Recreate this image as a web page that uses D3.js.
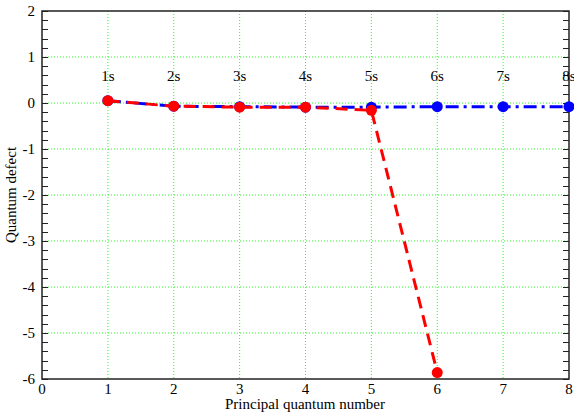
<!DOCTYPE html>
<html>
<head>
  <script src="https://d3js.org/d3.v7.min.js"></script>
  <style>
    body { margin: 0; background: #fff; }
    text { font-family: "Liberation Serif", "DejaVu Serif", serif; }
  </style>
</head>
<body>
  <svg id="chart"></svg>
  <script>
    // data
    const nValues = [1, 2, 3, 4, 5, 6, 7, 8];
    const stateLabels = ['1s', '2s', '3s', '4s', '5s', '6s', '7s', '8s'];
    const blueDefect = [0.05, -0.07, -0.08, -0.09, -0.09, -0.08, -0.08, -0.08];
    const redN = [1, 2, 3, 4, 5, 6];
    const redDefect = [0.05, -0.07, -0.09, -0.09, -0.16, -5.86];
    const xTicks = [0, 1, 2, 3, 4, 5, 6, 7, 8];
    const yTicks = [2, 1, 0, -1, -2, -3, -4, -5, -6];

    const W = 574, H = 415;
    const plotL = 42, plotR = 569, plotT = 11, plotB = 379;
    const fs = 15;

    const svg = d3.select('#chart').attr('width', W).attr('height', H);

    const x = d3.scaleLinear().domain([0, 8]).range([plotL, plotR]);
    const y = d3.scaleLinear().domain([-6, 2]).range([plotB, plotT]);

    // grid
    const grid = svg.append('g');
    grid.selectAll('.vg').data(xTicks.slice(1, -1)).enter().append('line')
      .attr('x1', d => x(d)).attr('x2', d => x(d))
      .attr('y1', plotT).attr('y2', plotB)
      .attr('stroke', '#22ff22').attr('stroke-dasharray', '1,2');
    grid.selectAll('.hg').data(yTicks.slice(1, -1)).enter().append('line')
      .attr('x1', plotL).attr('x2', plotR)
      .attr('y1', d => y(d)).attr('y2', d => y(d))
      .attr('stroke', '#22ff22').attr('stroke-dasharray', '1,2');

    // minor + major ticks, inside on left and right
    const minor = d3.range(-6, 2.0001, 0.2);
    svg.append('g').selectAll('line').data(minor).enter().append('line')
      .attr('x1', plotL).attr('x2', plotL + 6)
      .attr('y1', d => Math.round(y(d)) + 0.5).attr('y2', d => Math.round(y(d)) + 0.5)
      .attr('stroke', '#222');
    svg.append('g').selectAll('line').data(minor).enter().append('line')
      .attr('x1', plotR - 6).attr('x2', plotR)
      .attr('y1', d => Math.round(y(d)) + 0.5).attr('y2', d => Math.round(y(d)) + 0.5)
      .attr('stroke', '#222');

    // frame
    svg.append('rect')
      .attr('x', plotL).attr('y', plotT)
      .attr('width', plotR - plotL).attr('height', plotB - plotT)
      .attr('fill', 'none').attr('stroke', '#222').attr('stroke-width', 1.5);

    // tick labels
    svg.append('g').selectAll('text').data(yTicks).enter().append('text')
      .attr('x', plotL - 7).attr('y', d => y(d) + 5)
      .attr('text-anchor', 'end').attr('font-size', fs)
      .text(d => d);
    svg.append('g').selectAll('text').data(xTicks).enter().append('text')
      .attr('x', d => x(d)).attr('y', plotB + 15)
      .attr('text-anchor', 'middle').attr('font-size', fs)
      .text(d => d);

    // axis titles
    svg.append('text')
      .attr('x', 305).attr('y', 409)
      .attr('text-anchor', 'middle').attr('font-size', fs)
      .text('Principal quantum number');
    svg.append('text')
      .attr('transform', `translate(16, ${(plotT + plotB) / 2}) rotate(-90)`)
      .attr('text-anchor', 'middle').attr('font-size', fs)
      .text('Quantum defect');

    // state labels
    svg.append('g').selectAll('text').data(stateLabels).enter().append('text')
      .attr('x', (d, i) => x(nValues[i])).attr('y', y(0.48))
      .attr('text-anchor', 'middle').attr('font-size', fs)
      .text(d => d);

    const line = d3.line().x(d => x(d[0])).y(d => y(d[1]));

    // blue series
    const blue = nValues.map((n, i) => [n, blueDefect[i]]);
    svg.append('path').datum(blue)
      .attr('d', line).attr('fill', 'none')
      .attr('stroke', '#0000ff').attr('stroke-width', 3)
      .attr('stroke-dasharray', '13,5,3,5');
    svg.append('g').selectAll('circle').data(blue).enter().append('circle')
      .attr('cx', d => x(d[0])).attr('cy', d => y(d[1])).attr('r', 5.5)
      .attr('fill', '#0000ff');

    // red series
    const red = redN.map((n, i) => [n, redDefect[i]]);
    svg.append('path').datum(red)
      .attr('d', line).attr('fill', 'none')
      .attr('stroke', '#ff0000').attr('stroke-width', 3)
      .attr('stroke-dasharray', '12,7');
    svg.append('g').selectAll('circle').data(red).enter().append('circle')
      .attr('cx', d => x(d[0])).attr('cy', d => y(d[1])).attr('r', 5.5)
      .attr('fill', '#ff0000');
  </script>
</body>
</html>
